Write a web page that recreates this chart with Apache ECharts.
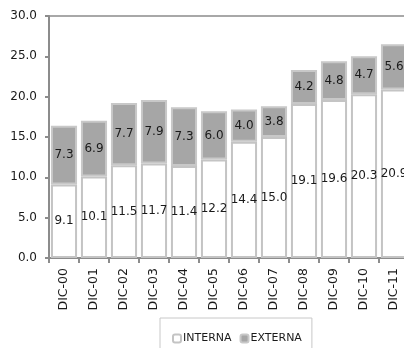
<!DOCTYPE html>
<html>
<head>
<meta charset="utf-8">
<script src="https://cdn.jsdelivr.net/npm/echarts@6/dist/echarts.min.js"></script>
<style>
html,body{margin:0;padding:0;background:#fff;}
#chart{width:404px;height:348px;}
</style>
</head>
<body>
<div id="chart"></div>
<script>
// Year-end periods (December of each year)
const categories = ['DIC-00','DIC-01','DIC-02','DIC-03','DIC-04','DIC-05','DIC-06','DIC-07','DIC-08','DIC-09','DIC-10','DIC-11'];
// Internal component
const interna = [9.1, 10.1, 11.5, 11.7, 11.4, 12.2, 14.4, 15.0, 19.1, 19.6, 20.3, 20.9];
// External component, stacked on top
const externa = [7.3, 6.9, 7.7, 7.9, 7.3, 6.0, 4.0, 3.8, 4.2, 4.8, 4.7, 5.6];
// Value axis ticks
const yTicks = [0, 5, 10, 15, 20, 25, 30];

const FONT = 'DejaVu Sans';
const chart = echarts.init(document.getElementById('chart'), null, {renderer: 'canvas'});

const labelStyle = {
  show: true,
  position: 'inside',
  color: '#1a1a1a',
  fontFamily: FONT,
  fontSize: 12,
  formatter: p => p.value.toFixed(1)
};

chart.setOption({
  animation: false,
  textStyle: {fontFamily: FONT},
  grid: {
    left: 49, top: 16, right: -5, bottom: 90,
    show: true, borderColor: '#8c8c8c', borderWidth: 1.5,
    containLabel: false,
    outerBoundsMode: 'none'
  },
  legend: {
    data: ['INTERNA', 'EXTERNA'],
    left: 160, top: 318,
    width: 145,
    padding: [15, 10, 14, 12],
    itemWidth: 8, itemHeight: 8, itemGap: 8,
    borderColor: '#c8c8c8', borderWidth: 1,
    textStyle: {fontFamily: FONT, fontSize: 11, color: '#1a1a1a', padding: [0, 0, 0, -3]}
  },
  xAxis: {
    type: 'category',
    data: categories,
    axisLine: {lineStyle: {color: '#8c8c8c', width: 2}},
    axisTick: {show: true, alignWithLabel: false, length: 5, lineStyle: {color: '#8c8c8c', width: 2}},
    axisLabel: {rotate: 90, margin: 10, fontFamily: FONT, fontSize: 12.5, color: '#1a1a1a', interval: 0}
  },
  yAxis: {
    type: 'value',
    min: yTicks[0], max: yTicks[yTicks.length - 1], interval: yTicks[1] - yTicks[0],
    axisLine: {show: true, lineStyle: {color: '#8c8c8c', width: 2}},
    axisTick: {show: true, length: 4, lineStyle: {color: '#8c8c8c', width: 2}},
    splitLine: {show: false},
    axisLabel: {margin: 12, fontFamily: FONT, fontSize: 12, color: '#1a1a1a', formatter: v => v.toFixed(1)}
  },
  series: [
    {
      name: 'INTERNA', type: 'bar', stack: 'total',
      data: interna,
      barCategoryGap: '13%',
      itemStyle: {color: '#ffffff', borderColor: '#c4c4c4', borderWidth: 2},
      label: labelStyle
    },
    {
      name: 'EXTERNA', type: 'bar', stack: 'total',
      data: externa,
      barCategoryGap: '13%',
      itemStyle: {color: '#a6a6a6', borderColor: '#c8c8c8', borderWidth: 2},
      label: labelStyle
    }
  ]
});
</script>
</body>
</html>
